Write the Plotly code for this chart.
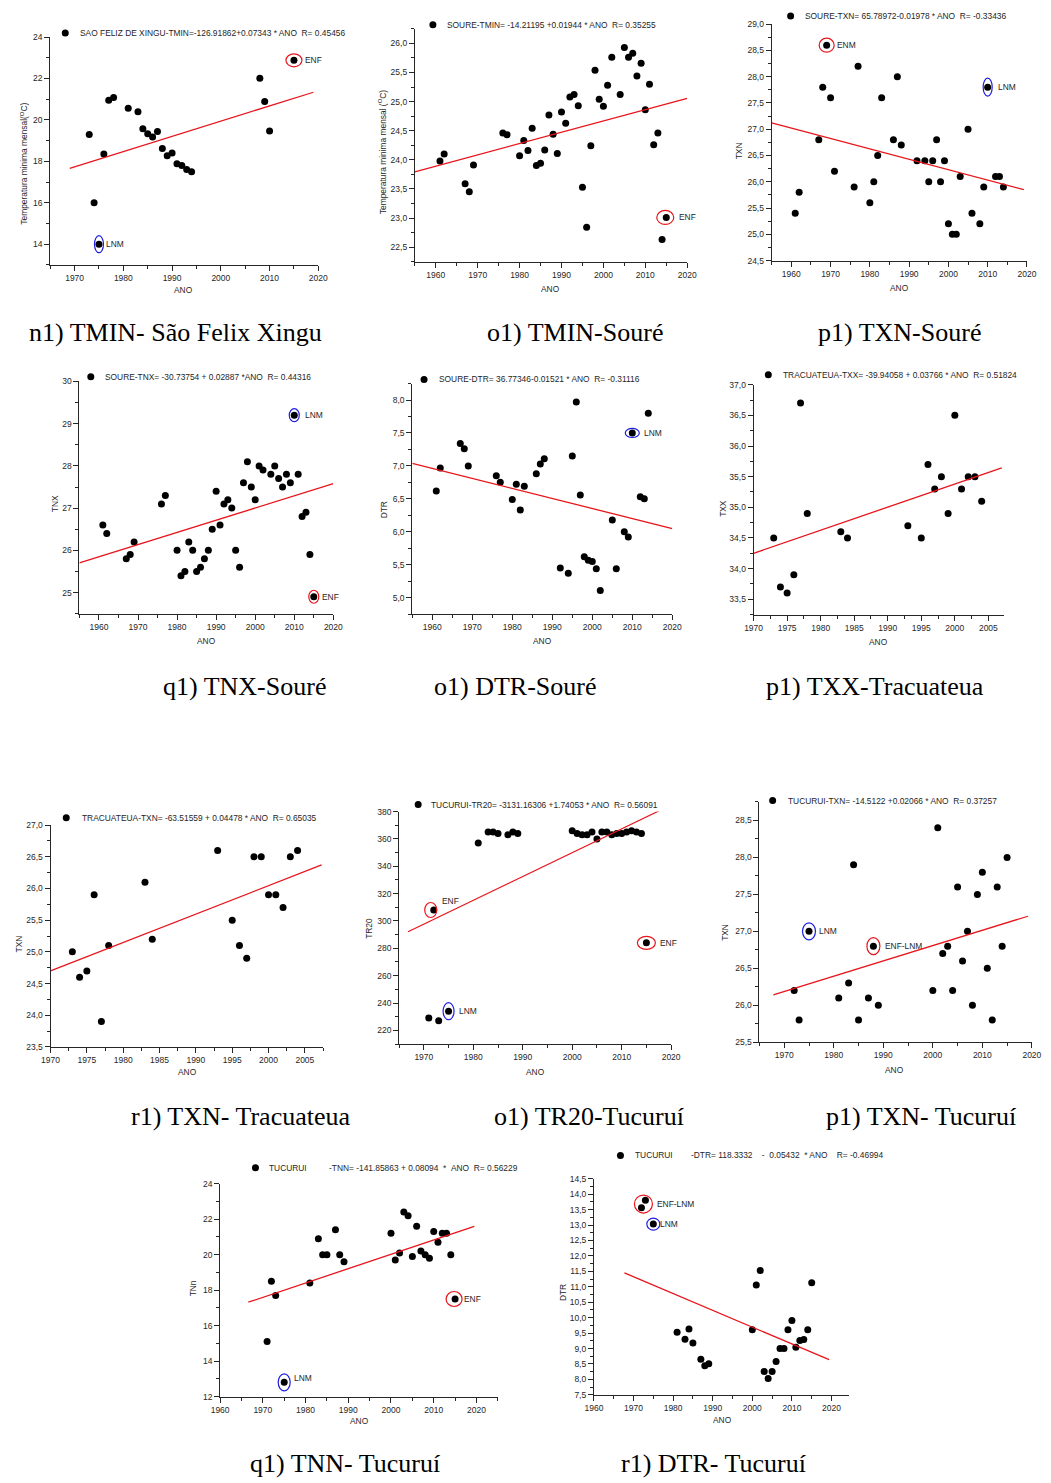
import plotly.graph_objects as go

W, H = 1051, 1483

# ---------------- data ----------------
# São Felix do Xingu - TMIN
xingu_tmin_ano = [1973, 1974, 1975, 1976, 1977, 1978, 1981, 1983, 1984, 1985, 1986, 1987,
                  1988, 1989, 1990, 1991, 1992, 1993, 1994, 2008, 2009, 2010, 2015]
xingu_tmin_val = [19.3, 16.0, 14.0, 18.35, 20.95, 21.08, 20.56, 20.39, 19.57, 19.33, 19.18, 19.44,
                  18.62, 18.27, 18.4, 17.88, 17.8, 17.61, 17.5, 22.01, 20.89, 19.47, 22.88]
xingu_tmin_fit = (-126.91862, 0.07343)
xingu_tmin_span = [1969, 2019]

# Souré - TMIN
soure_tmin_ano = [1961, 1962, 1967, 1968, 1969, 1976, 1977, 1980, 1981, 1982, 1983, 1984, 1985,
                  1986, 1987, 1988, 1989, 1990, 1991, 1992, 1993, 1994, 1995, 1996, 1997, 1998,
                  1999, 2000, 2001, 2002, 2004, 2005, 2006, 2007, 2008, 2009, 2010, 2011, 2012,
                  2013, 2014, 2015]
soure_tmin_val = [23.98, 24.10, 23.59, 23.45, 23.91, 24.46, 24.43, 24.07, 24.33, 24.16, 24.54, 23.90,
                  23.94, 24.17, 24.77, 24.44, 24.11, 24.82, 24.63, 25.08, 25.12, 24.93, 23.53, 22.84,
                  24.24, 25.54, 25.04, 24.92, 25.28, 25.76, 25.12, 25.93, 25.76, 25.83, 25.44, 25.66,
                  24.86, 25.30, 24.26, 24.46, 22.63, 23.01]
soure_tmin_fit = (-14.21195, 0.01944)
soure_tmin_span = [1955, 2020]

# Souré - TXN
soure_txn_ano = [1961, 1962, 1967, 1968, 1969, 1970, 1971, 1976, 1977, 1980, 1981, 1982, 1983,
                 1986, 1987, 1988, 1992, 1994, 1995, 1996, 1997, 1998, 1999, 2000, 2001, 2002,
                 2003, 2005, 2006, 2008, 2009, 2010, 2012, 2013, 2014]
soure_txn_val = [25.4, 25.8, 26.8, 27.8, 28.6, 27.6, 26.2, 25.9, 28.2, 25.6, 26.0, 26.5, 27.6,
                 26.8, 28.0, 26.7, 26.4, 26.4, 26.0, 26.4, 26.8, 26.0, 26.4, 25.2, 25.0, 25.0,
                 26.1, 27.0, 25.4, 25.2, 25.9, 27.8, 26.1, 26.1, 25.9]
soure_txn_fit = (65.78972, -0.01978)
soure_txn_span = [1955, 2019.2]

# Souré - TNX
soure_tnx_ano = [1961, 1962, 1967, 1968, 1969, 1976, 1977, 1980, 1981, 1982, 1983, 1984, 1985,
                 1986, 1987, 1988, 1989, 1990, 1991, 1992, 1993, 1994, 1995, 1996, 1997, 1998,
                 1999, 2000, 2001, 2002, 2004, 2005, 2006, 2007, 2008, 2009, 2010, 2011, 2012,
                 2013, 2014, 2015]
soure_tnx_val = [26.6, 26.4, 25.8, 25.9, 26.2, 27.1, 27.3, 26.0, 25.4, 25.5, 26.2, 26.0, 25.5,
                 25.6, 25.8, 26.0, 26.5, 27.4, 26.6, 27.1, 27.2, 27.0, 26.0, 25.6, 27.6, 28.1,
                 27.5, 27.2, 28.0, 27.9, 27.8, 28.0, 27.7, 27.5, 27.8, 27.6, 29.2, 27.8, 26.8,
                 26.9, 25.9, 24.9]
soure_tnx_fit = (-30.73754, 0.02887)
soure_tnx_span = [1955, 2020]

# Souré - DTR
soure_dtr_ano = [1961, 1962, 1967, 1968, 1969, 1976, 1977, 1980, 1981, 1982, 1983, 1986, 1987,
                 1988, 1992, 1994, 1995, 1996, 1997, 1998, 1999, 2000, 2001, 2002, 2005, 2006,
                 2008, 2009, 2010, 2012, 2013, 2014]
soure_dtr_val = [6.62, 6.97, 7.34, 7.26, 7.0, 6.85, 6.75, 6.49, 6.72, 6.33, 6.69, 6.88, 7.03,
                 7.11, 5.45, 5.37, 7.15, 7.97, 6.56, 5.62, 5.57, 5.55, 5.44, 5.11, 6.18, 5.44,
                 6.0, 5.92, 7.50, 6.53, 6.50, 7.80]
soure_dtr_fit = (36.77346, -0.01521)
soure_dtr_span = [1955, 2020]

# Tracuateua - TXX
tracuateua_txx_ano = [1973, 1974, 1975, 1976, 1977, 1978, 1983, 1984, 1993, 1995, 1996, 1997,
                      1998, 1999, 2000, 2001, 2002, 2003, 2004]
tracuateua_txx_val = [34.5, 33.7, 33.6, 33.9, 36.7, 34.9, 34.6, 34.5, 34.7, 34.5, 35.7, 35.3,
                      35.5, 34.9, 36.5, 35.3, 35.5, 35.5, 35.1]
tracuateua_txx_fit = (-39.94058, 0.03766)
tracuateua_txx_span = [1970, 2007]

# Tracuateua - TXN
tracuateua_txn_ano = [1973, 1974, 1975, 1976, 1977, 1978, 1983, 1984, 1993, 1995, 1996, 1997,
                      1998, 1999, 2000, 2001, 2002, 2003, 2004]
tracuateua_txn_val = [25.0, 24.6, 24.7, 25.9, 23.9, 25.1, 26.1, 25.2, 26.6, 25.5, 25.1, 24.9,
                      26.5, 26.5, 25.9, 25.9, 25.7, 26.5, 26.6]
tracuateua_txn_fit = (-63.51559, 0.04478)
tracuateua_txn_span = [1970, 2007.3]

# Tucuruí - TR20
tucurui_tr20_ano = [1971, 1972, 1973, 1975, 1981, 1983, 1984, 1985, 1987, 1988, 1989, 2000,
                    2001, 2002, 2003, 2004, 2005, 2006, 2007, 2008, 2009, 2010, 2011, 2012,
                    2013, 2014, 2015]
tucurui_tr20_val = [229, 308, 227, 234, 357, 365, 365, 364, 363, 365, 364, 366,
                    364, 363, 363, 365, 360, 365, 365, 363, 364, 364, 365, 366,
                    365, 364, 284]
tucurui_tr20_fit = (-3131.16306, 1.74053)
tucurui_tr20_span = [1966.8, 2017.5]

# Tucuruí - TXN
tucurui_txn_ano = [1972, 1973, 1975, 1981, 1983, 1984, 1985, 1987, 1988, 1989, 2000, 2001,
                   2002, 2003, 2004, 2005, 2006, 2007, 2008, 2009, 2010, 2011, 2012, 2013,
                   2014, 2015]
tucurui_txn_val = [26.2, 25.8, 27.0, 26.1, 26.3, 27.9, 25.8, 26.1, 26.8, 26.0, 26.2, 28.4,
                   26.7, 26.8, 26.2, 27.6, 26.6, 27.0, 26.0, 27.5, 27.8, 26.5, 25.8, 27.6,
                   26.8, 28.0]
tucurui_txn_fit = (-14.5122, 0.02066)
tucurui_txn_span = [1967.8, 2019.2]

# Tucuruí - TNN
tucurui_tnn_ano = [1971, 1972, 1973, 1975, 1981, 1983, 1984, 1985, 1987, 1988, 1989, 2000,
                   2001, 2002, 2003, 2004, 2005, 2006, 2007, 2008, 2009, 2010, 2011, 2012,
                   2013, 2014, 2015]
tucurui_tnn_val = [15.1, 18.5, 17.7, 12.8, 18.4, 20.9, 20.0, 20.0, 21.4, 20.0, 19.6, 21.2,
                   19.7, 20.1, 22.4, 22.2, 19.9, 21.6, 20.2, 20.0, 19.8, 21.3, 20.7, 21.2,
                   21.2, 20.0, 17.5]
tucurui_tnn_fit = (-141.85863, 0.08094)
tucurui_tnn_span = [1966.6, 2019.5]

# Tucuruí - DTR
tucurui_dtr_ano = [1972, 1973, 1975, 1981, 1983, 1984, 1985, 1987, 1988, 1989, 2000, 2001,
                   2002, 2003, 2004, 2005, 2006, 2007, 2008, 2009, 2010, 2011, 2012, 2013,
                   2014, 2015]
tucurui_dtr_val = [13.56, 13.80, 13.03, 9.53, 9.30, 9.63, 9.18, 8.65, 8.44, 8.51, 9.61, 11.06,
                   11.53, 8.26, 8.03, 8.26, 8.58, 9.0, 9.0, 9.61, 9.91, 9.04, 9.26, 9.29,
                   9.61, 11.13]
tucurui_dtr_fit = (118.3332, -0.05432)
tucurui_dtr_span = [1967.7, 2019.4]

# ---------------- styling helpers ----------------
SANS = "Liberation Sans, Arial, sans-serif"
SERIF = "Liberation Serif, Times New Roman, serif"
INK = "#262626"
RED = "#e8141b"
BLUE = "#1f1fe0"
NB = "\u00a0"


def px_x(x):
    return x / W


def px_y(y):
    return 1 - y / H


# one entry per panel: data references + frame geometry (pixel box) and texts
panels = [
    dict(ano=xingu_tmin_ano, val=xingu_tmin_val, fit=xingu_tmin_fit, span=xingu_tmin_span,
         box=(42, 315, 32.3, 261.7), xr=[1965, 2020], yr=[13, 24], xt=(10, 5), yt=(2, 1), fmt="d",
         legend_dot=(57.3, 28.3), legend=[(70.3, "SAO FELIZ DE XINGU-TMIN=-126.91862+0.07343 * ANO" + NB * 2 + "R= 0.45456")],
         ytitle="Temperatura minima mensal(<sup>O</sup>C)", ytitle_pos=(16, 160), xtitle_pos=(178, 286.7),
         marks=[dict(years=[2015], color=RED, label="ENF", w=16, h=13, dx=9),
                dict(years=[1975], color=BLUE, label="LNM", w=9, h=17, dx=5)]),
    dict(ano=soure_tmin_ano, val=soure_tmin_val, fit=soure_tmin_fit, span=soure_tmin_span,
         box=(413.3, 690.7, 24.0, 258.4), xr=[1955, 2020], yr=[22.25, 26.25], xt=(10, 5), yt=(0.5, 0.25), fmt=".1f",
         legend_dot=(431.7, 20), legend=[(444, "SOURE-TMIN= -14.21195 +0.01944 * ANO" + NB * 2 + "R= 0.35255")],
         ytitle="Temperatura minima mensal (<sup>O</sup>C)", ytitle_pos=(380, 148), xtitle_pos=(551.7, 285.7),
         marks=[dict(years=[2015], color=RED, label="ENF", w=17, h=14, dx=11, cx=-1)]),
    dict(ano=soure_txn_ano, val=soure_txn_val, fit=soure_txn_fit, span=soure_txn_span,
         box=(776.7, 1036.7, 19.3, 257.3), xr=[1955, 2020], yr=[24.5, 29.0], xt=(10, 5), yt=(0.5, 0.25), fmt=".1f",
         legend_dot=(796, 11), legend=[(808.3, "SOURE-TXN= 65.78972-0.01978 * ANO" + NB * 2 + "R= -0.33436")],
         ytitle="TXN", ytitle_pos=(743, 146.7), xtitle_pos=(906.7, 285),
         marks=[dict(years=[1969], color=RED, label="ENM", w=15, h=14, dx=8),
                dict(years=[2010], color=BLUE, label="LNM", w=9, h=18, dx=8)]),
    dict(ano=soure_tnx_ano, val=soure_tnx_val, fit=soure_tnx_fit, span=soure_tnx_span,
         box=(71.7, 330.3, 379, 612.8), xr=[1955, 2020], yr=[24.5, 30], xt=(10, 5), yt=(1, 0.5), fmt="d",
         legend_dot=(83.3, 374.3), legend=[(96, "SOURE-TNX= -30.73754 + 0.02887 *ANO" + NB * 2 + "R= 0.44316")],
         ytitle="TNX", ytitle_pos=(46.7, 501.7), xtitle_pos=(200.7, 640.3),
         marks=[dict(years=[2010], color=BLUE, label="LNM", w=10, h=13, dx=8.5),
                dict(years=[2015], color=RED, label="ENF", w=10, h=13, dx=6.5)]),
    dict(ano=soure_dtr_ano, val=soure_dtr_val, fit=soure_dtr_fit, span=soure_dtr_span,
         box=(410.7, 675.5, 381.1, 613.3), xr=[1955, 2020], yr=[4.75, 8.25], xt=(10, 5), yt=(0.5, 0.25), fmt=".1f",
         legend_dot=(422.7, 377), legend=[(436, "SOURE-DTR= 36.77346-0.01521 * ANO" + NB * 2 + "R= -0.31116")],
         ytitle="DTR", ytitle_pos=(381.7, 508), xtitle_pos=(543.3, 640.3),
         marks=[dict(years=[2010], color=BLUE, label="LNM", w=14, h=9, dx=9.5)]),
    dict(ano=tracuateua_txx_ano, val=tracuateua_txx_val, fit=tracuateua_txx_fit, span=tracuateua_txx_span,
         box=(758.3, 1013.1, 382.3, 613.7), xr=[1970, 2007.3], yr=[33.25, 37.0], xt=(5, 2.5), yt=(0.5, 0.25), fmt=".1f",
         legend_dot=(773.3, 372.3), legend=[(786, "TRACUATEUA-TXX= -39.94058 + 0.03766 * ANO" + NB * 2 + "R= 0.51824")],
         ytitle="TXX", ytitle_pos=(727.7, 506.7), xtitle_pos=(885.7, 641), marks=[]),
    dict(ano=tracuateua_txn_ano, val=tracuateua_txn_val, fit=tracuateua_txn_fit, span=tracuateua_txn_span,
         box=(42.3, 319.8, 825.7, 1049), xr=[1970, 2007.5], yr=[23.5, 27.0], xt=(5, 2.5), yt=(0.5, 0.25), fmt=".1f",
         legend_dot=(58.3, 818.3), legend=[(72.3, "TRACUATEUA-TXN= -63.51559 + 0.04478 * ANO" + NB * 2 + "R= 0.65035")],
         ytitle="TXN", ytitle_pos=(10, 945), xtitle_pos=(181.7, 1074.3), marks=[]),
    dict(ano=tucurui_tr20_ano, val=tucurui_tr20_val, fit=tucurui_tr20_fit, span=tucurui_tr20_span,
         box=(397.3, 674.3, 812, 1046.1), xr=[1965, 2020], yr=[210, 380], xt=(10, 5), yt=(20, 10), fmt="d",
         legend_dot=(416.7, 805), legend=[(427.7, "TUCURUI-TR20= -3131.16306 +1.74053 * ANO" + NB * 2 + "R= 0.56091")],
         ytitle="TR20", ytitle_pos=(366.7, 930), xtitle_pos=(536, 1074),
         marks=[dict(years=[1972], color=RED, label="ENF", w=12, h=15, dx=6, dy=-9, cx=-3),
                dict(years=[1975], color=BLUE, label="LNM", w=11, h=17, dx=8.5),
                dict(years=[2015], color=RED, label="ENF", w=18, h=13, dx=12)]),
    dict(ano=tucurui_txn_ano, val=tucurui_txn_val, fit=tucurui_txn_fit, span=tucurui_txn_span,
         box=(764.3, 1041.7, 802.4, 1044.3), xr=[1965, 2020], yr=[25.5, 28.75], xt=(10, 5), yt=(0.5, 0.25), fmt=".1f",
         legend_dot=(777.7, 801), legend=[(791.7, "TUCURUI-TXN= -14.5122 +0.02066 * ANO" + NB * 2 + "R= 0.37257")],
         ytitle="TXN", ytitle_pos=(729, 933.3), xtitle_pos=(901.7, 1072.3),
         marks=[dict(years=[1975], color=BLUE, label="LNM", w=13, h=17, dx=7.5),
                dict(years=[1988], color=RED, label="ENF-LNM", w=13, h=17, dx=10)]),
    dict(ano=tucurui_tnn_ano, val=tucurui_tnn_val, fit=tucurui_tnn_fit, span=tucurui_tnn_span,
         box=(215, 497.8, 1186.7, 1401), xr=[1960, 2025], yr=[12, 24], xt=(10, 5), yt=(2, 1), fmt="d",
         legend_dot=(251, 1170.7),
         legend=[(262.3, "TUCURUI"),
                 (324, "-TNN= -141.85863 + 0.08094" + NB * 2 + "*" + NB * 2 + "ANO" + NB * 2 + "R= 0.56229")],
         ytitle="TNn", ytitle_pos=(187.7, 1291.7), xtitle_pos=(356.7, 1425.7),
         marks=[dict(years=[1975], color=BLUE, label="LNM", w=12, h=17, dx=8, dy=-4),
                dict(years=[2015], color=RED, label="ENF", w=16, h=15, dx=7, cx=-1)]),
    dict(ano=tucurui_dtr_ano, val=tucurui_dtr_val, fit=tucurui_dtr_fit, span=tucurui_dtr_span,
         box=(595.7, 855.8, 1181.7, 1399.3), xr=[1960, 2024.5], yr=[7.5, 14.5], xt=(10, 5), yt=(0.5, 0.25), fmt=".1f",
         legend_dot=(622.7, 1158.3),
         legend=[(635, "TUCURUI"),
                 (692.7, "-DTR= 118.3332" + NB * 4 + "-" + NB * 2 + "0.05432" + NB * 2 + "* ANO" + NB * 4 + "R= -0.46994")],
         ytitle="DTR", ytitle_pos=(564.3, 1296.7), xtitle_pos=(726.7, 1425),
         marks=[dict(years=[1972, 1973], color=RED, label="ENF-LNM", w=18, h=18, dx=12),
                dict(years=[1975], color=BLUE, label="LNM", w=13, h=12, dx=5)]),
]

captions = [
    (170, 330, "n1) TMIN- São Felix Xingu"),
    (576, 330, "o1) TMIN-Souré"),
    (907, 330, "p1) TXN-Souré"),
    (240, 686, "q1) TNX-Souré"),
    (515, 686, "o1) DTR-Souré"),
    (882, 686, "p1) TXX-Tracuateua"),
    (236, 1119, "r1) TXN- Tracuateua"),
    (591, 1119, "o1) TR20-Tucuruí"),
    (929, 1119, "p1) TXN- Tucuruí"),
    (342, 1468, "q1) TNN- Tucuruí"),
    (717, 1468, "r1) DTR- Tucuruí"),
]

# ---------------- build figure ----------------
fig = go.Figure()
layout = dict(
    width=W, height=H, margin=dict(l=0, r=0, t=0, b=0),
    paper_bgcolor="white", plot_bgcolor="white",
    showlegend=False, separators=",.",
    font=dict(family=SANS, size=8.5, color=INK),
)
shapes = []
annotations = []

for i, p in enumerate(panels, start=1):
    xa, ya = f"x{i}", f"y{i}"
    left, right, top, bottom = p["box"]

    # observed values
    fig.add_trace(go.Scatter(
        x=p["ano"], y=p["val"], mode="markers", xaxis=xa, yaxis=ya,
        marker=dict(color="black", size=7, line=dict(width=0)), cliponaxis=False,
    ))
    # linear fit from the stated regression equation
    a, b = p["fit"]
    fx = p["span"]
    fig.add_trace(go.Scatter(
        x=fx, y=[a + b * v for v in fx], mode="lines", xaxis=xa, yaxis=ya,
        line=dict(color=RED, width=1.3),
    ))

    axis_common = dict(
        showline=True, linecolor=INK, linewidth=1, mirror=False,
        showgrid=False, zeroline=False, ticks="outside", ticklen=5, tickwidth=1, tickcolor=INK,
        tickfont=dict(family=SANS, size=8.5, color=INK),
    )
    layout[f"xaxis{i}"] = dict(
        axis_common, domain=[px_x(left), px_x(right)], range=p["xr"], anchor=ya,
        dtick=p["xt"][0], tick0=0, tickformat="d",
        minor=dict(dtick=p["xt"][1], tick0=0, ticks="outside", ticklen=3, tickcolor=INK, showgrid=False),
    )
    layout[f"yaxis{i}"] = dict(
        axis_common, domain=[px_y(bottom), px_y(top)], range=p["yr"], anchor=xa,
        dtick=p["yt"][0], tick0=0, tickformat=p["fmt"],
        minor=dict(dtick=p["yt"][1], tick0=0, ticks="outside", ticklen=3, tickcolor=INK, showgrid=False),
    )

    # legend entry: symbol + equation text
    lx, ly = p["legend_dot"]
    shapes.append(dict(type="circle", xref="paper", yref="paper", xsizemode="pixel", ysizemode="pixel",
                       xanchor=px_x(lx), yanchor=px_y(ly), x0=-3.5, x1=3.5, y0=-3.5, y1=3.5,
                       fillcolor="black", line=dict(width=0)))
    for tx, txt in p["legend"]:
        annotations.append(dict(xref="paper", yref="paper", x=px_x(tx), y=px_y(ly), text=txt,
                                xanchor="left", yanchor="middle", showarrow=False,
                                font=dict(family=SANS, size=8.4, color=INK)))

    # axis titles
    tx, ty = p["ytitle_pos"]
    annotations.append(dict(xref="paper", yref="paper", x=px_x(tx), y=px_y(ty), text=p["ytitle"],
                            textangle=-90, xanchor="center", yanchor="middle", showarrow=False,
                            font=dict(family=SANS, size=8.4, color=INK)))
    tx, ty = p["xtitle_pos"]
    annotations.append(dict(xref="paper", yref="paper", x=px_x(tx), y=px_y(ty), text="ANO",
                            xanchor="center", yanchor="middle", showarrow=False,
                            font=dict(family=SANS, size=8.4, color=INK)))

    # highlighted extremes: ellipse around the point(s) + tag
    lookup = dict(zip(p["ano"], p["val"]))
    for m in p["marks"]:
        cx_year = sum(m["years"]) / len(m["years"])
        cy_val = sum(lookup[y] for y in m["years"]) / len(m["years"])
        off = m.get("cx", 0)
        shapes.append(dict(type="circle", xref=xa, yref=ya, xsizemode="pixel", ysizemode="pixel",
                           xanchor=cx_year, yanchor=cy_val,
                           x0=off - m["w"] / 2, x1=off + m["w"] / 2, y0=-m["h"] / 2, y1=m["h"] / 2,
                           line=dict(color=m["color"], width=1.2)))
        annotations.append(dict(xref=xa, yref=ya, x=cx_year, y=cy_val, text=m["label"],
                                xanchor="left", yanchor="middle", xshift=m["dx"], yshift=-m.get("dy", 0),
                                showarrow=False, font=dict(family=SANS, size=8.4, color=INK)))

for cx, cy, txt in captions:
    annotations.append(dict(xref="paper", yref="paper", x=px_x(cx), y=px_y(cy), text=txt,
                            xanchor="center", yanchor="middle", showarrow=False,
                            font=dict(family=SERIF, size=26, color="black")))

layout["shapes"] = shapes
layout["annotations"] = annotations
fig.update_layout(**layout)

# the page body gets no default margin, so the figure sits flush at the top-left corner
fig.write_html(
    "out.html",
    post_script="document.body.style.margin='0';document.body.style.overflow='hidden';",
)
